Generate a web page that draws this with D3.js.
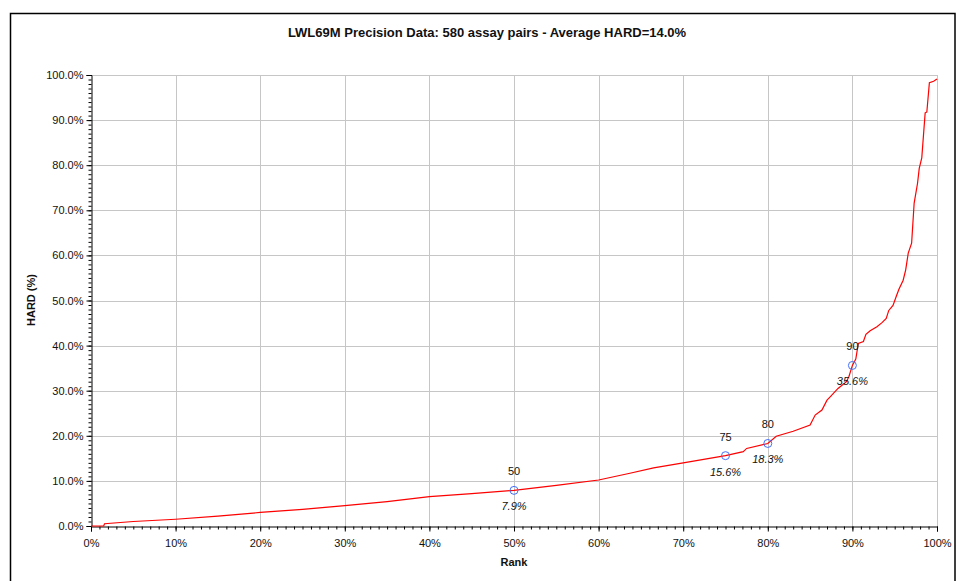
<!DOCTYPE html>
<html>
<head>
<meta charset="utf-8">
<script src="https://cdn.jsdelivr.net/npm/d3@7"></script>
<style>
  html, body { margin: 0; padding: 0; background: #fff; }
  svg { display: block; font-family: "Liberation Sans", Arial, sans-serif; }
</style>
</head>
<body>
<svg id="chart" width="956" height="581"></svg>
<script>
// ---- Data ----
const titleText = "LWL69M Precision Data: 580 assay pairs - Average HARD=14.0%";
const rankPct = [0, 1.5, 1.6, 5, 10, 15, 20, 25, 30, 35, 40, 45, 50, 55, 60, 63.7, 66.5, 70, 75, 77.1, 77.5, 80, 81, 83, 85, 85.6, 86.4, 87, 87.4, 88.3, 89.3, 89.6, 90, 90.4, 90.7, 91.3, 91.6, 92.1, 92.9, 93.5, 94, 94.3, 94.8, 95.2, 95.5, 96, 96.3, 96.6, 97, 97.3, 97.7, 97.9, 98.2, 98.6, 98.8, 99.1, 99.6, 100];
const hardPct = [0, 0, 0.5, 1.0, 1.5, 2.2, 3.0, 3.7, 4.5, 5.4, 6.5, 7.2, 7.9, 9.0, 10.2, 11.7, 12.9, 14.0, 15.6, 16.5, 17.2, 18.3, 19.9, 21.0, 22.4, 24.6, 25.7, 27.9, 28.7, 30.5, 32.0, 33.2, 35.6, 37.0, 40.5, 40.9, 42.5, 43.3, 44.2, 45.1, 46.0, 47.8, 48.9, 51.0, 52.5, 54.5, 56.8, 60.5, 62.7, 71.6, 76.0, 79.3, 81.6, 91.6, 91.8, 98.3, 98.6, 99.1];
const markerRank = [50, 75, 80, 90];
const markerValue = [7.9, 15.6, 18.3, 35.6];
const markerName = ["50", "75", "80", "90"];
const yTicks = [0, 10, 20, 30, 40, 50, 60, 70, 80, 90, 100];
const xTicks = [0, 10, 20, 30, 40, 50, 60, 70, 80, 90, 100];

// ---- Layout ----
const svg = d3.select("#chart");
const plot = { left: 91, right: 937, top: 75, bottom: 526 };
const x = d3.scaleLinear().domain([0, 100]).range([plot.left, plot.right]);
const y = d3.scaleLinear().domain([0, 100]).range([plot.bottom, plot.top]);

// outer frame
svg.append("rect").attr("x", 10.5).attr("y", 13.5).attr("width", 944.5).attr("height", 580)
  .attr("fill", "#fff").attr("stroke", "#000").attr("stroke-width", 1.5);

// title
svg.append("text").attr("x", 487).attr("y", 37).attr("text-anchor", "middle")
  .attr("font-size", 13).attr("font-weight", "bold").attr("fill", "#111").text(titleText);

// gridlines
const grid = svg.append("g");
grid.selectAll("line.h").data(yTicks.filter(d => d > 0)).enter().append("line")
  .attr("x1", plot.left).attr("x2", plot.right)
  .attr("y1", d => Math.round(y(d)) + 0.5).attr("y2", d => Math.round(y(d)) + 0.5)
  .attr("stroke", "#c6c6c6").attr("stroke-width", 1);
grid.selectAll("line.v").data(xTicks.filter(d => d > 0)).enter().append("line")
  .attr("y1", plot.top).attr("y2", plot.bottom)
  .attr("x1", d => Math.round(x(d)) + 0.5).attr("x2", d => Math.round(x(d)) + 0.5)
  .attr("stroke", "#c6c6c6").attr("stroke-width", 1);

// y axis
const yAxis = d3.axisLeft(y).tickValues(yTicks).tickFormat(d => d.toFixed(1) + "%").tickSize(5).tickPadding(3);
const yMinor = d3.axisLeft(y).ticks(100).tickFormat("").tickSize(3);
const gyMinor = svg.append("g").attr("transform", `translate(${plot.left + 0.5},0)`).call(yMinor);
gyMinor.select(".domain").remove();
gyMinor.selectAll("line").attr("stroke", "#000");
const gy = svg.append("g").attr("transform", `translate(${plot.left + 0.5},0)`).call(yAxis);
gy.select(".domain").attr("stroke", "#000");
gy.selectAll("text").attr("font-size", 11).attr("fill", "#111").attr("font-family", "Liberation Sans, Arial, sans-serif");
gy.selectAll("line").attr("stroke", "#000");

// x axis
const xAxis = d3.axisBottom(x).tickValues(xTicks).tickFormat(d => d + "%").tickSize(5).tickPadding(8);
const xMinor = d3.axisBottom(x).ticks(100).tickFormat("").tickSize(3);
const gxMinor = svg.append("g").attr("transform", `translate(0,${plot.bottom + 0.5})`).call(xMinor);
gxMinor.select(".domain").remove();
gxMinor.selectAll("line").attr("stroke", "#000");
const gx = svg.append("g").attr("transform", `translate(0,${plot.bottom + 0.5})`).call(xAxis);
gx.select(".domain").attr("stroke", "#000");
gx.selectAll("text").attr("font-size", 11).attr("fill", "#111").attr("font-family", "Liberation Sans, Arial, sans-serif");
gx.selectAll("line").attr("stroke", "#000");

// axis titles
svg.append("text").attr("x", 514).attr("y", 566).attr("text-anchor", "middle")
  .attr("font-size", 11).attr("font-weight", "bold").attr("fill", "#111").text("Rank");
svg.append("text").attr("transform", "translate(35,300) rotate(-90)").attr("text-anchor", "middle")
  .attr("font-size", 11).attr("font-weight", "bold").attr("fill", "#111").text("HARD (%)");

// curve
const pts = rankPct.map((r, i) => [r, hardPct[i]]);
const line = d3.line().x(d => x(d[0])).y(d => y(d[1]));
svg.append("path").datum(pts).attr("d", line).attr("fill", "none")
  .attr("stroke", "#ff0000").attr("stroke-width", 1.2);

// markers
const mk = markerRank.map((r, i) => ({ r, v: markerValue[i], n: markerName[i] }));
const mg = svg.append("g");
mg.selectAll("circle").data(mk).enter().append("circle")
  .attr("cx", d => x(d.r)).attr("cy", d => y(d.v)).attr("r", 4)
  .attr("fill", "none").attr("stroke", "#4470ff").attr("stroke-width", 1);
mg.selectAll("text.n").data(mk).enter().append("text")
  .attr("x", d => x(d.r)).attr("y", d => y(d.v) - 15).attr("text-anchor", "middle")
  .attr("font-size", 11).attr("fill", "#111").text(d => d.n);
mg.selectAll("text.v").data(mk).enter().append("text")
  .attr("x", d => x(d.r)).attr("y", d => y(d.v) + 20).attr("text-anchor", "middle")
  .attr("font-size", 11).attr("font-style", "italic").attr("fill", "#111").text(d => d.v.toFixed(1) + "%");
</script>
</body>
</html>
